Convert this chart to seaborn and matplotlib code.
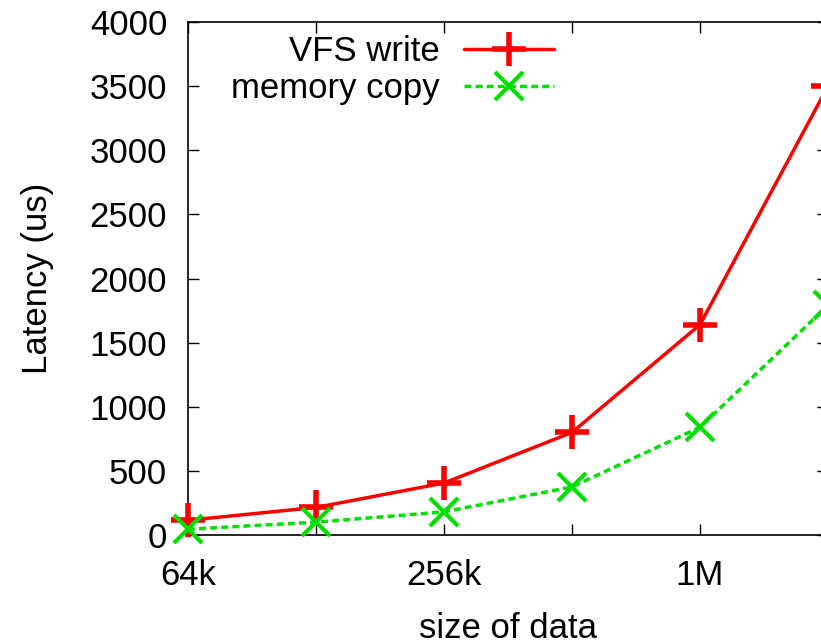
import matplotlib
matplotlib.use("Agg")
import matplotlib.pyplot as plt
import seaborn as sns
import pandas as pd

sizes_kb = [64, 128, 256, 512, 1024, 2048]
tick_labels = ["64k", "", "256k", "", "1M", ""]
vfs_write = [115, 215, 405, 800, 1640, 3500]
memory_copy = [45, 100, 180, 375, 840, 1790]
y_ticks = [0, 500, 1000, 1500, 2000, 2500, 3000, 3500, 4000]

sns.set_theme(style="ticks")
plt.rcParams['font.family'] = ['Liberation Sans', 'DejaVu Sans']
plt.rcParams['text.color'] = 'black'
plt.rcParams['axes.labelcolor'] = 'black'
plt.rcParams['xtick.color'] = 'black'
plt.rcParams['ytick.color'] = 'black'

df = pd.DataFrame({
    "size": sizes_kb * 2,
    "latency": vfs_write + memory_copy,
    "series": ["VFS write"] * len(sizes_kb) + ["memory copy"] * len(sizes_kb),
})

fig = plt.figure(figsize=(8.21, 6.42), dpi=100)
ax = fig.add_axes([188 / 821, 107 / 642, 640 / 821, 513 / 642])

red = "#ff0000"
green = "#00e000"
sns.lineplot(data=df[df.series == "VFS write"], x="size", y="latency", ax=ax,
             color=red, lw=2.5, marker="+", markersize=24, markeredgewidth=4,
             markeredgecolor=red, legend=False, clip_on=False, zorder=3)
sns.lineplot(data=df[df.series == "memory copy"], x="size", y="latency", ax=ax,
             color=green, lw=2.5, marker="x", markersize=20, markeredgewidth=3,
             markeredgecolor=green, legend=False, clip_on=False, zorder=4)
l1, l2 = ax.lines[0], ax.lines[1]
l1.set_linestyle("-")
l2.set_linestyle((0, (2, 1.2)))
l1.set_label("VFS write")
l2.set_label("memory copy")

ax.set_xscale("log", base=2)
ax.set_xlim(64, 2048)
ax.set_ylim(0, 4000)
ax.set_xticks(sizes_kb)
ax.set_xticklabels(tick_labels)
ax.xaxis.set_minor_locator(matplotlib.ticker.NullLocator())
ax.set_yticks(y_ticks)
ax.tick_params(direction="in", length=8, width=1, labelsize=25, top=True, right=True,
               color="black")
ax.tick_params(axis="x", pad=17)
ax.tick_params(axis="y", pad=15)
for s in ax.spines.values():
    s.set_linewidth(1.2)
    s.set_color("black")

ax.set_xlabel("size of data", fontsize=25, labelpad=15)
ax.set_ylabel("Latency (us)", fontsize=25, labelpad=26)

leg = ax.legend(handles=[l1, l2], loc="upper left", bbox_to_anchor=(0.035, 1.015), frameon=False,
                markerfirst=False, fontsize=25, handlelength=2.6, handletextpad=0.7,
                labelspacing=0.12, borderaxespad=0.2)

fig.savefig("out.png", dpi=100)
